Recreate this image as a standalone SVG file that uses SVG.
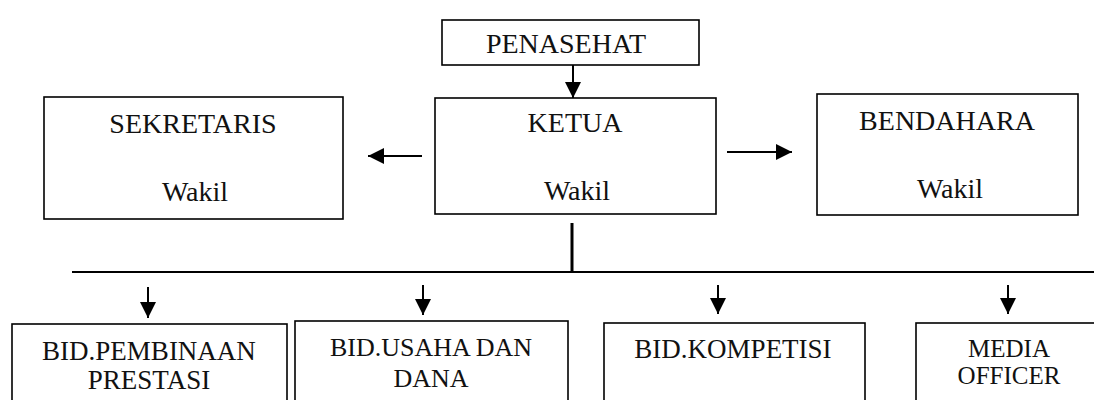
<svg xmlns="http://www.w3.org/2000/svg" width="1094" height="400" viewBox="0 0 1094 400">
<style>
.box{fill:#fff;stroke:#000;stroke-width:1.6}
.c{stroke:#000;stroke-width:2;fill:none}
.f{font-family:'Liberation Serif','Tinos','Times New Roman','DejaVu Serif','Noto Serif',serif}
</style>
<defs>
<marker id="ah" viewBox="0 0 10 10" refX="10" refY="5" markerUnits="userSpaceOnUse" markerWidth="16" markerHeight="16" orient="auto">
<path d="M0,0 L10,5 L0,10 z" fill="#000"/>
</marker>
</defs>
<rect width="1094" height="400" fill="#fff"/>
<g class="f" fill="#111" text-anchor="middle">
<g id="penasehat"><rect class="box" x="442" y="20" width="257" height="45"/><text font-size="28" x="566" y="53">PENASEHAT</text></g>
<g id="ketua"><rect class="box" x="435" y="98" width="281" height="116"/><text font-size="28" x="575" y="132">KETUA</text><text font-size="28" x="577" y="200">Wakil</text></g>
<g id="sekretaris"><rect class="box" x="44" y="97" width="299" height="122"/><text font-size="28" x="193" y="133">SEKRETARIS</text><text font-size="28" x="195" y="201">Wakil</text></g>
<g id="bendahara"><rect class="box" x="817" y="94" width="261" height="121"/><text font-size="28" x="947" y="130">BENDAHARA</text><text font-size="28" x="950" y="198">Wakil</text></g>
<g id="bid-pembinaan"><rect class="box" x="12" y="324" width="275" height="90"/><text font-size="27" x="149" y="360">BID.PEMBINAAN</text><text font-size="27" x="149" y="389">PRESTASI</text></g>
<g id="bid-usaha"><rect class="box" x="295" y="321" width="273" height="93"/><text font-size="26" x="431" y="356">BID.USAHA DAN</text><text font-size="26" x="431" y="387">DANA</text></g>
<g id="bid-kompetisi"><rect class="box" x="604" y="323" width="261" height="91"/><text font-size="27" x="733" y="358">BID.KOMPETISI</text></g>
<g id="media-officer"><rect class="box" x="916" y="323" width="190" height="91"/><text font-size="25" x="1009" y="357">MEDIA</text><text font-size="25" x="1009" y="384">OFFICER</text></g>
</g>
<g id="connectors">
<line class="c" x1="573" y1="65" x2="573" y2="98" marker-end="url(#ah)"/>
<line class="c" x1="422" y1="156" x2="368" y2="156" marker-end="url(#ah)"/>
<line class="c" x1="727" y1="152" x2="792" y2="152" marker-end="url(#ah)"/>
<line x1="572" y1="223" x2="572" y2="273" stroke="#000" stroke-width="3"/>
<line class="c" x1="72" y1="272" x2="1094" y2="272"/>
<line class="c" x1="148" y1="287" x2="148" y2="318" marker-end="url(#ah)"/>
<line class="c" x1="423" y1="285" x2="423" y2="315" marker-end="url(#ah)"/>
<line class="c" x1="718" y1="285" x2="718" y2="314" marker-end="url(#ah)"/>
<line class="c" x1="1008" y1="285" x2="1008" y2="314" marker-end="url(#ah)"/>
</g>
</svg>
